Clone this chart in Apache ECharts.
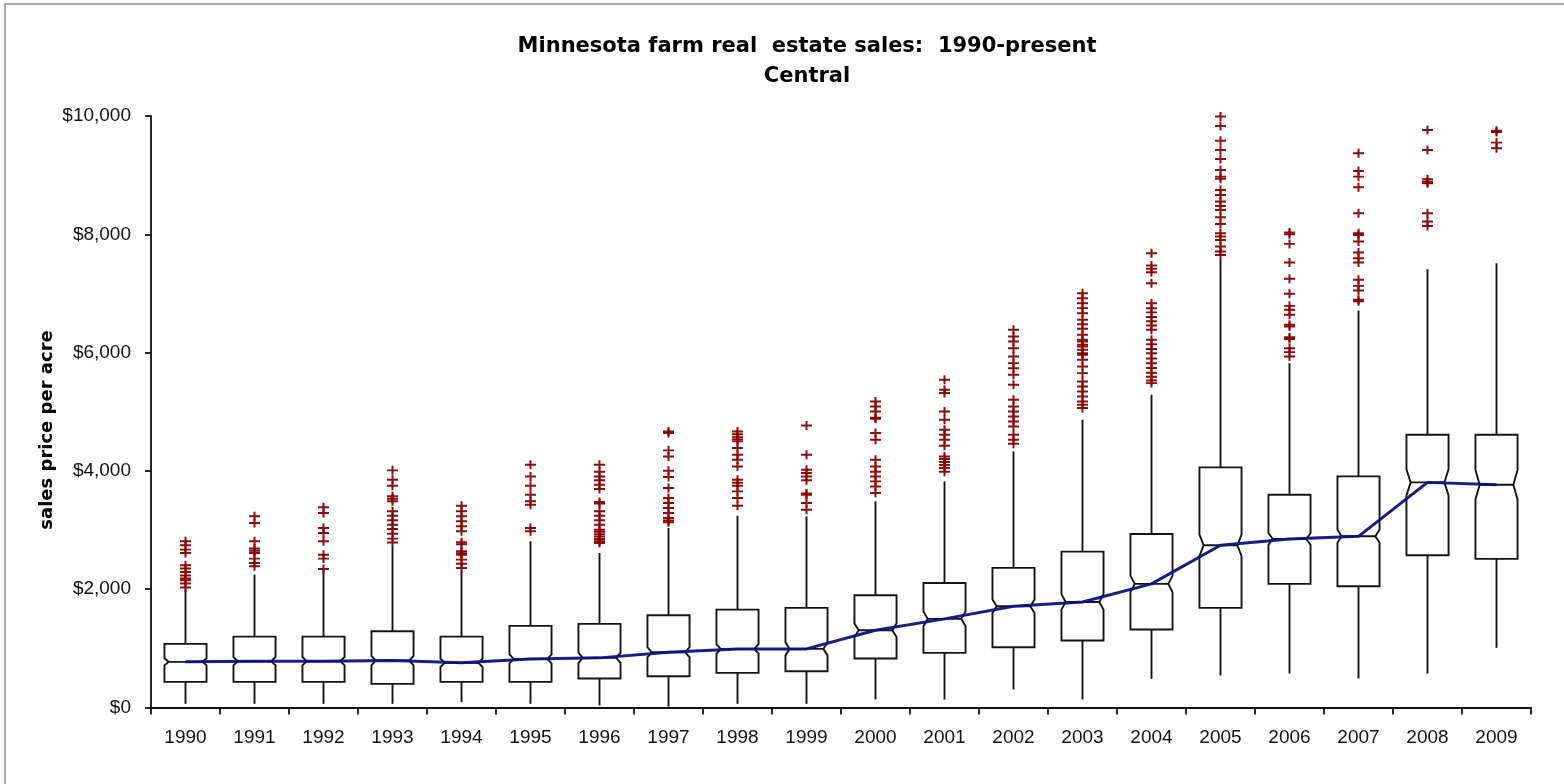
<!DOCTYPE html>
<html><head><meta charset="utf-8">
<script src="https://cdn.jsdelivr.net/npm/echarts@6/dist/echarts.min.js"></script>
<style>html,body{margin:0;padding:0;background:#fff}#c{width:1564px;height:784px}</style>
</head><body><div id="c"></div>
<script>
const years = ['1990','1991','1992','1993','1994','1995','1996','1997','1998','1999','2000','2001','2002','2003','2004','2005','2006','2007','2008','2009'];
const whiskerLow  = [62, 62, 62, 62, 90, 62, 34, 15, 62, 62, 135, 135, 304, 135, 484, 540, 574, 490, 574, 1008];
const q1          = [434, 434, 434, 400, 434, 434, 490, 529, 586, 613, 828, 924, 1019, 1132, 1318, 1684, 2090, 2050, 2573, 2512];
const median      = [772, 783, 783, 794, 755, 822, 839, 934, 991, 991, 1306, 1498, 1711, 1784, 2090, 2742, 2849, 2894, 3806, 3767];
const q3          = [1076, 1199, 1199, 1289, 1199, 1380, 1413, 1559, 1655, 1684, 1897, 2106, 2360, 2635, 2934, 4059, 3598, 3907, 4611, 4611];
const whiskerHigh = [1993, 2247, 2331, 2720, 2303, 2810, 2612, 3035, 3243, 3232, 3485, 3823, 4330, 4865, 5287, 7579, 5822, 6711, 7410, 7511];
const notchHalf   = [60, 70, 70, 80, 70, 75, 90, 85, 80, 110, 115, 125, 115, 130, 140, 180, 100, 110, 220, 250];
const outliers = [
  [2810, 2742, 2669, 2612, 2404, 2350, 2290, 2230, 2180, 2150, 2095, 2030],
  [3232, 3120, 2810, 2690, 2650, 2612, 2517, 2444, 2387],
  [3384, 3289, 3035, 2951, 2810, 2584, 2517, 2343],
  [4009, 3851, 3750, 3570, 3530, 3485, 3316, 3243, 3164, 3091, 3018, 2939, 2855, 2790],
  [3412, 3316, 3232, 3147, 3063, 2978, 2793, 2760, 2641, 2610, 2584, 2500, 2432, 2360],
  [4105, 3907, 3750, 3598, 3485, 3429, 3035, 2978],
  [4105, 3986, 3907, 3840, 3767, 3694, 3473, 3450, 3316, 3243, 3164, 3091, 3007, 2970, 2930, 2890, 2850, 2810, 2782],
  [4668, 4640, 4347, 4245, 4003, 3897, 3710, 3542, 3458, 3373, 3289, 3204, 3160, 3130],
  [4668, 4620, 4570, 4530, 4499, 4386, 4274, 4189, 4076, 3851, 3800, 3750, 3654, 3542, 3412],
  [4769, 4274, 4020, 3964, 3907, 3840, 3620, 3598, 3458, 3345],
  [5174, 5090, 5005, 4900, 4882, 4640, 4527, 4189, 4076, 3986, 3907, 3823, 3738, 3626],
  [5540, 5372, 5316, 5005, 4865, 4696, 4611, 4527, 4426, 4245, 4200, 4150, 4100, 4050, 3986],
  [6385, 6272, 6188, 6075, 5934, 5822, 5737, 5625, 5456, 5203, 5090, 5005, 4921, 4836, 4752, 4611, 4527, 4459],
  [7004, 6920, 6836, 6752, 6667, 6554, 6480, 6402, 6300, 6216, 6188, 6132, 6103, 6047, 5991, 5963, 5878, 5765, 5653, 5512, 5428, 5343, 5259, 5174, 5120, 5062],
  [7680, 7471, 7416, 7360, 7174, 6836, 6750, 6680, 6600, 6530, 6460, 6385, 6216, 6140, 6060, 5990, 5900, 5820, 5740, 5660, 5590, 5530, 5484],
  [9990, 9831, 9583, 9426, 9274, 9088, 8975, 8940, 8750, 8666, 8553, 8480, 8412, 8289, 8176, 8018, 7961, 7905, 7792, 7708, 7650],
  [8029, 8000, 7838, 7522, 7247, 6993, 6790, 6723, 6639, 6470, 6440, 6261, 6230, 6075, 6008, 5934],
  [9369, 9071, 8975, 8795, 8356, 8018, 7990, 7877, 7691, 7596, 7522, 7230, 7128, 7049, 6892, 6870],
  [9764, 9426, 8930, 8890, 8863, 8356, 8215, 8142],
  [9752, 9730, 9550, 9454]
];
const yTickValues = [0, 2000, 4000, 6000, 8000, 10000];
const titleLines = ['Minnesota farm real  estate sales:  1990-present', 'Central'];
const yAxisName = 'sales price per acre';

const boxData = years.map((y, i) => [i, whiskerLow[i], q1[i], median[i], q3[i], whiskerHigh[i], notchHalf[i]]);
const outlierData = [];
outliers.forEach((arr, i) => arr.forEach(v => outlierData.push([i, v])));

function fmtMoney(v) { return '$' + String(v).replace(/\B(?=(\d{3})+(?!\d))/g, ','); }

const LINE = '#141414';
function renderBox(params, api) {
  const i = api.value(0);
  const lo = api.coord([i, api.value(1)]);
  const b1 = api.coord([i, api.value(2)]);
  const m = api.coord([i, api.value(3)]);
  const b3 = api.coord([i, api.value(4)]);
  const hi = api.coord([i, api.value(5)]);
  const nT = api.coord([i, api.value(3) + api.value(6)]);
  const nB = api.coord([i, api.value(3) - api.value(6)]);
  const bw = api.size([1, 0])[0] * 0.61;
  const x = m[0], L = x - bw / 2, R = x + bw / 2, ins = bw * 0.1;
  const pts = [[L, b3[1]], [R, b3[1]], [R, nT[1]], [R - ins, m[1]], [R, nB[1]], [R, b1[1]],
               [L, b1[1]], [L, nB[1]], [L + ins, m[1]], [L, nT[1]]];
  const st = { stroke: LINE, lineWidth: 1.9 };
  return { type: 'group', children: [
    { type: 'line', shape: { x1: x, y1: hi[1], x2: x, y2: b3[1] }, style: st },
    { type: 'line', shape: { x1: x, y1: b1[1], x2: x, y2: lo[1] }, style: st },
    { type: 'polygon', shape: { points: pts }, style: { fill: '#fff', stroke: LINE, lineWidth: 1.9 } },
    { type: 'line', shape: { x1: L + ins, y1: m[1], x2: R - ins, y2: m[1] }, style: st }
  ]};
}

const chart = echarts.init(document.getElementById('c'), null, { renderer: 'canvas' });
chart.setOption({
  backgroundColor: '#fff',
  animation: false,
  grid: { left: 151, right: 33, top: 116, bottom: 76.5, containLabel: false, outerBoundsMode: 'none' },
  xAxis: {
    type: 'category', data: years, boundaryGap: true,
    axisLine: { lineStyle: { color: '#111', width: 1.8 } },
    axisTick: { show: true, length: 7, lineStyle: { color: '#111', width: 1.8 } },
    axisLabel: { color: '#111', fontFamily: 'Liberation Sans', fontSize: 19, margin: 21 },
    splitLine: { show: false }
  },
  yAxis: {
    type: 'value', min: 0, max: 10000, interval: 2000,
    axisLine: { show: true, lineStyle: { color: '#111', width: 1.8 } },
    axisTick: { show: true, length: 6, lineStyle: { color: '#111', width: 1.8 } },
    axisLabel: { color: '#111', fontFamily: 'Liberation Sans', fontSize: 19, margin: 20,
      formatter: v => yTickValues.includes(v) ? fmtMoney(v) : '' },
    splitLine: { show: false }
  },
  series: [
    { type: 'custom', renderItem: renderBox, data: boxData, z: 2, clip: false },
    { type: 'scatter', data: outlierData, z: 3,
      symbol: 'path://M41,0H59V39H100V61H59V100H41V61H0V39H41Z', symbolSize: [11, 9],
      itemStyle: { color: '#870000', opacity: 0.95 } },
    { type: 'line', data: median, z: 5, symbol: 'none', smooth: false,
      lineStyle: { color: '#10107f', width: 3, opacity: 0.95 } }
  ],
  graphic: [
    { type: 'rect', shape: { x: 5, y: 4, width: 1620, height: 900 }, style: { fill: 'none', stroke: '#aaaaaa', lineWidth: 2 }, z: -1 },
    { type: 'text', x: 807, y: 47, style: { text: titleLines[0], font: 'bold 21px "DejaVu Sans"', fill: '#000', textAlign: 'center', textVerticalAlign: 'middle' } },
    { type: 'text', x: 807, y: 77, style: { text: titleLines[1], font: 'bold 21px "DejaVu Sans"', fill: '#000', textAlign: 'center', textVerticalAlign: 'middle' } },
    { type: 'text', x: 47.5, y: 430, rotation: Math.PI / 2, style: { text: yAxisName, font: 'bold 18px "DejaVu Sans"', fill: '#000', textAlign: 'center', textVerticalAlign: 'middle' } }
  ]
});
</script></body></html>
